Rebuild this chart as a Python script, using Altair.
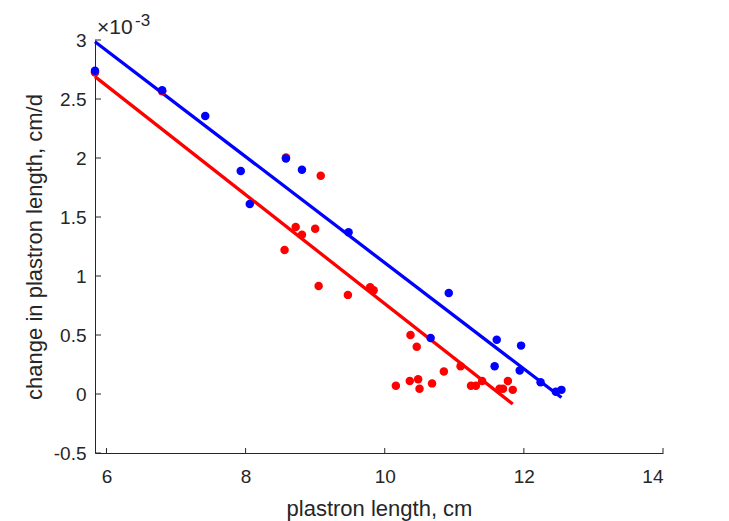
import altair as alt
import pandas as pd

# data (y in units of 1e-3 cm/d)
blue_x = [5.835, 6.80, 7.42, 7.93, 8.06, 8.58, 8.81, 9.48, 10.92, 10.66, 11.61, 11.58, 11.96, 11.94, 12.24, 12.46, 12.54]
blue_y = [2.74, 2.575, 2.355, 1.89, 1.61, 1.995, 1.90, 1.37, 0.855, 0.475, 0.46, 0.235, 0.41, 0.20, 0.10, 0.02, 0.035]

red_x = [5.835, 6.80, 8.58, 9.08, 8.72, 8.81, 9.00, 8.56, 9.05, 9.47, 9.79, 9.84, 10.37, 10.46,
         10.85, 11.09, 10.16, 10.36, 10.48, 10.50, 10.68, 11.24, 11.31, 11.40, 11.77, 11.65, 11.70, 11.84]
red_y = [2.725, 2.565, 2.005, 1.85, 1.415, 1.35, 1.40, 1.22, 0.915, 0.84, 0.905, 0.88, 0.50, 0.40,
         0.19, 0.235, 0.07, 0.11, 0.125, 0.045, 0.09, 0.07, 0.07, 0.11, 0.11, 0.045, 0.045, 0.035]

blue_line_x = [5.835, 12.54]
blue_line_y = [2.985, -0.03]
red_line_x = [5.835, 11.84]
red_line_y = [2.69, -0.085]

x_ticks = [6, 8, 10, 12, 14]
y_ticks = [-0.5, 0, 0.5, 1, 1.5, 2, 2.5, 3]

W, H = 568, 413
FONT = "Liberation Sans"
DARK = "#262626"

blue_df = pd.DataFrame({"x": blue_x, "y": blue_y})
red_df = pd.DataFrame({"x": red_x, "y": red_y})
bl_df = pd.DataFrame({"x": blue_line_x, "y": blue_line_y})
rl_df = pd.DataFrame({"x": red_line_x, "y": red_line_y})
xt_df = pd.DataFrame({"x": x_ticks})
yt_df = pd.DataFrame({"y": y_ticks})

xs = alt.Scale(domain=[5.835, 14], nice=False, zero=False)
ys = alt.Scale(domain=[-0.5, 3], nice=False, zero=False)

x_axis = alt.Axis(values=x_ticks, grid=False, ticks=False, domainColor=DARK, domainWidth=1,
                  labelFont=FONT, labelFontSize=19, labelColor=DARK, labelPadding=14,
                  labelExpr="datum.value + ''",
                  title="plastron length, cm", titleFont=FONT, titleFontSize=22,
                  titleFontWeight="normal", titleColor=DARK, titleY=62,
                  titleBaseline="alphabetic")
y_axis = alt.Axis(values=y_ticks, grid=False, ticks=False, domainColor=DARK, domainWidth=1,
                  labelFont=FONT, labelFontSize=19, labelColor=DARK, labelPadding=9,
                  labelBaseline="middle", labelExpr="datum.value + ''",
                  title="change in plastron length, cm/d", titleFont=FONT, titleFontSize=22,
                  titleFontWeight="normal", titleColor=DARK, titleX=-54, titleY=H / 2,
                  titleAngle=270, titleAlign="center", titleBaseline="alphabetic")

ax_x = alt.X("x:Q", scale=xs, axis=x_axis)
ax_y = alt.Y("y:Q", scale=ys, axis=y_axis)

red_line = alt.Chart(rl_df).mark_line(color="#ff0000", strokeWidth=3.3, clip=False).encode(x=ax_x, y=ax_y)
blue_line = alt.Chart(bl_df).mark_line(color="#0000ff", strokeWidth=3.3, clip=False).encode(x=ax_x, y=ax_y)
red_pts = alt.Chart(red_df).mark_circle(color="#ff0000", opacity=1, size=72).encode(x=ax_x, y=ax_y)
blue_pts = alt.Chart(blue_df).mark_circle(color="#0000ff", opacity=1, size=72).encode(x=ax_x, y=ax_y)

xticks = alt.Chart(xt_df).mark_rule(color=DARK, strokeWidth=1).encode(
    x=ax_x, y=alt.value(H), y2=alt.value(H - 5))
yticks = alt.Chart(yt_df).mark_rule(color=DARK, strokeWidth=1).encode(
    y=ax_y, x=alt.value(0), x2=alt.value(6))

exp_base = alt.Chart(pd.DataFrame({"s": ["×10"]})).mark_text(
    font=FONT, fontSize=21, color=DARK, align="left", baseline="alphabetic").encode(
    text="s:N", x=alt.value(2), y=alt.value(-6))
exp_sup = alt.Chart(pd.DataFrame({"s": ["-3"]})).mark_text(
    font=FONT, fontSize=17, color=DARK, align="left", baseline="alphabetic").encode(
    text="s:N", x=alt.value(40), y=alt.value(-14))

chart = alt.layer(red_line, blue_line, red_pts, blue_pts, xticks, yticks, exp_base, exp_sup).properties(
    width=W, height=H,
    background="white",
    autosize=alt.AutoSizeParams(type="none"),
    padding={"left": 95, "top": 40, "right": 66, "bottom": 68},
).configure_view(stroke=None)

chart.save("out.html", embed_options={"renderer": "svg", "actions": False})
